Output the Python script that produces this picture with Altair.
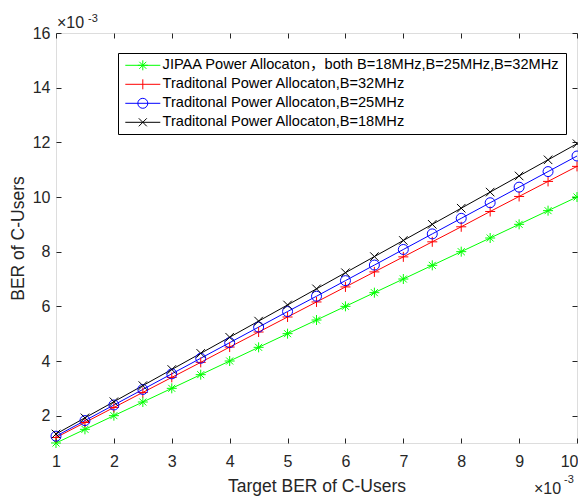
import altair as alt
import pandas as pd

# ---------------- data ----------------
x_vals = [1, 1.5, 2, 2.5, 3, 3.5, 4, 4.5, 5, 5.5, 6, 6.5, 7, 7.5, 8, 8.5, 9, 9.5, 10]
jipaa = [1.0, 1.5, 2.0, 2.5, 3.0, 3.5, 4.0, 4.5, 5.0, 5.5, 6.0, 6.5, 7.0, 7.5, 8.0, 8.5, 9.0, 9.5, 10.0]
trad32 = [1.20, 1.75, 2.30, 2.85, 3.40, 3.95, 4.51, 5.06, 5.61, 6.16, 6.71, 7.26, 7.81, 8.36, 8.91, 9.47, 10.02, 10.57, 11.12]
trad25 = [1.25, 1.82, 2.39, 2.96, 3.53, 4.10, 4.67, 5.24, 5.81, 6.37, 6.94, 7.51, 8.08, 8.65, 9.22, 9.79, 10.36, 10.93, 11.50]
trad18 = [1.33, 1.92, 2.51, 3.10, 3.69, 4.28, 4.87, 5.46, 6.05, 6.64, 7.23, 7.82, 8.41, 9.00, 9.59, 10.18, 10.77, 11.36, 11.95]

series_names = [
    "JIPAA Power Allocaton，both B=18MHz,B=25MHz,B=32MHz",
    "Traditonal Power Allocaton,B=32MHz",
    "Traditonal Power Allocaton,B=25MHz",
    "Traditonal Power Allocaton,B=18MHz",
]
series_values = [jipaa, trad32, trad25, trad18]
colors = ["#00ff00", "#ff0000", "#0000ff", "#000000"]

x_ticks = [1, 2, 3, 4, 5, 6, 7, 8, 9, 10]
x_ticks_inner = [1, 2, 3, 4, 5, 6, 7, 8, 9]
x_tick_last = [10]
y_ticks = [2, 4, 6, 8, 10, 12, 14, 16]
exp_base = "×10"
exp_power = "-3"

# marker shapes (plot)
plot_shapes = [
    "M-1,0L1,0M0,-1L0,1M-0.7,-0.7L0.7,0.7M-0.7,0.7L0.7,-0.7",
    "M-1,0L1,0M0,-1L0,1",
    "M1,0A1,1,0,1,1,-1,0A1,1,0,1,1,1,0",
    "M-0.85,-0.85L0.85,0.85M-0.85,0.85L0.85,-0.85",
]
# legend symbols (size 100 -> 1 unit = 5px): line 35px long, marker in the middle
legend_shapes = [
    "M-1,0L6,0M2.5,-1L2.5,1M1.5,0L3.5,0M1.8,-0.7L3.2,0.7M1.8,0.7L3.2,-0.7",
    "M-1,0L6,0M2.5,-1L2.5,1",
    "M3.5,0A1,1,0,1,1,1.5,0A1,1,0,1,1,3.5,0M-1,0L6,0",
    "M-1,0L6,0M1.7,-0.8L3.3,0.8M1.7,0.8L3.3,-0.8",
]

rows = []
for name, vals in zip(series_names, series_values):
    for xv, yv in zip(x_vals, vals):
        rows.append({"x": xv, "y": yv, "series": name})
df = pd.DataFrame(rows)
legend_df = pd.DataFrame({"series": series_names, "x": [0] * 4, "y": [0] * 4})
note_df = pd.DataFrame({"base": [exp_base], "power": [exp_power]})

FONT = "Liberation Sans, Arial, Noto Sans CJK SC"
AX = "#262626"
W, H = 521, 410

xs = alt.Scale(domain=[1, 10], nice=False, zero=False)
ys = alt.Scale(domain=[1, 16], nice=False, zero=False)
cscale = alt.Scale(domain=series_names, range=colors)

main_x = alt.Axis(values=x_ticks_inner, ticks=False, domain=False, grid=False, orient="bottom",
                  labelFontSize=16, labelPadding=10, labelColor=AX, labelFont=FONT, labelFlush=False,
                  labelOverlap=False,
                  title="Target BER of C-Users", titleFontSize=17.5, titleFontWeight="normal",
                  titleColor=AX, titleFont=FONT, titlePadding=8)
last_x = alt.Axis(values=x_tick_last, ticks=False, domain=False, grid=False, orient="bottom",
                  labelFontSize=16, labelPadding=10, labelColor=AX, labelFont=FONT, labelFlush=True,
                  labelFlushOffset=1, labelOverlap=False, title=None)
main_y = alt.Axis(values=y_ticks, ticks=False, domain=False, grid=False, orient="left",
                  labelFontSize=16, labelPadding=6, labelColor=AX, labelFont=FONT, labelFlush=False,
                  labelOverlap=False,
                  title="BER of C-Users", titleFontSize=17.5, titleFontWeight="normal",
                  titleColor=AX, titleFont=FONT, titlePadding=5)

lines = alt.Chart(df).mark_line(strokeWidth=1, clip=True).encode(
    x=alt.X("x:Q", scale=xs, axis=main_x),
    y=alt.Y("y:Q", scale=ys, axis=main_y),
    color=alt.Color("series:N", scale=cscale, legend=None),
    detail="series:N",
)

points = alt.Chart(df).mark_point(filled=False, strokeWidth=1, size=100, opacity=1).encode(
    x=alt.X("x:Q", scale=xs, axis=last_x),
    y=alt.Y("y:Q", scale=ys, axis=None),
    color=alt.Color("series:N", scale=cscale, legend=None),
    shape=alt.Shape("series:N", scale=alt.Scale(domain=series_names, range=plot_shapes), legend=None),
)

leg = alt.Legend(title=None, orient="none", legendX=62, legendY=20,
                 strokeColor="#000000", fillColor="#ffffff", padding=5,
                 labelFontSize=14.6, labelFont=FONT, labelColor="#000000", labelLimit=600,
                 labelOffset=25, symbolSize=100, symbolStrokeWidth=1, symbolOpacity=1,
                 rowPadding=3)

legend_layer = alt.Chart(legend_df).mark_point(filled=False, clip=True, opacity=1).encode(
    x=alt.X("x:Q", scale=xs, axis=None),
    y=alt.Y("y:Q", scale=ys, axis=None),
    color=alt.Color("series:N", scale=cscale, legend=leg),
    shape=alt.Shape("series:N", scale=alt.Scale(domain=series_names, range=legend_shapes), legend=leg),
)

def tick_axis(orient, vals):
    return alt.Axis(values=vals, orient=orient, offset=-5, tickSize=5, ticks=True, tickColor=AX,
                    tickWidth=1, labels=False, domain=False, grid=False, title=None)

ticks_bl = alt.Chart(legend_df).mark_point(clip=True, opacity=0).encode(
    x=alt.X("x:Q", scale=xs, axis=tick_axis("bottom", x_ticks)),
    y=alt.Y("y:Q", scale=ys, axis=tick_axis("left", y_ticks)),
)
ticks_tr = alt.Chart(legend_df).mark_point(clip=True, opacity=0).encode(
    x=alt.X("x:Q", scale=xs, axis=tick_axis("top", x_ticks)),
    y=alt.Y("y:Q", scale=ys, axis=tick_axis("right", y_ticks)),
)

def note(field, px, py, size):
    return alt.Chart(note_df).mark_text(align="left", baseline="alphabetic", fontSize=size,
                                        font=FONT, color=AX).encode(
        x=alt.value(px), y=alt.value(py), text=f"{field}:N")

notes = [
    note("base", 1, -5, 16), note("power", 32, -11, 11),
    note("base", 478, 461, 16), note("power", 508, 450, 11),
]

chart = alt.layer(lines, points, legend_layer, ticks_bl, ticks_tr, *notes).resolve_scale(
    shape="independent", color="independent"
).resolve_axis(x="independent", y="independent").properties(
    width=W, height=H,
    autosize=alt.AutoSizeParams(type="none"),
    padding={"left": 48, "top": 25, "right": 1, "bottom": 53},
).configure_view(stroke=AX, strokeWidth=1).configure(background="#ffffff")

chart.save("out.html", embed_options={"renderer": "svg", "actions": False})
